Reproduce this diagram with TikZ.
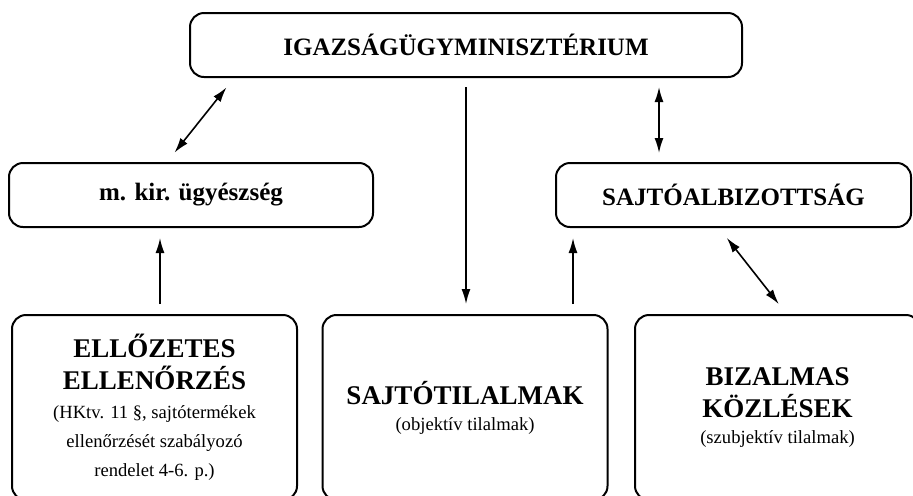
\documentclass[tikz,border=0pt]{standalone}
\usepackage{fontspec}
\setmainfont{Liberation Serif}
\usetikzlibrary{arrows.meta,positioning,calc}
\newcommand{\megj}{\fontsize{9.3}{13.5}\selectfont\mdseries}

\begin{document}
\begin{tikzpicture}[x=0.5pt,y=-0.5pt,>={Latex[length=7.5pt,width=4.5pt]},
    box/.style={rectangle,rounded corners=7pt,draw,line width=1pt,inner sep=2pt,align=center},
    head/.style={box,font=\fontsize{12.5}{15}\selectfont\bfseries,minimum height=32pt},
    big/.style={box,font=\fontsize{13.5}{16}\selectfont\bfseries,minimum width=142.5pt,minimum height=92.5pt},
    conn/.style={line width=0.8pt},
  ]
  \useasboundingbox (0,0) rectangle (913,495);
  \clip (0,0) rectangle (913,495);
  % upper row
  \node[head,minimum width=276pt]   (min)   at (466,45)   {IGAZSÁGÜGYMINISZTÉRIUM};
  \node[head,minimum width=182pt]   (ugy)   at (191,195)  {m. kir. ügyészség};
  \node[head,minimum width=177.5pt] (albiz) at (733.5,195) {SAJTÓALBIZOTTSÁG};
  % lower row
  \node[big] (ell)  at (154.5,407.5) {ELLŐZETES\\ELLENŐRZÉS\\[-1.5pt]\megj (HKtv. 11 §, sajtótermékek\\[-1.5pt]\megj ellenőrzését szabályozó\\[-1.5pt]\megj rendelet 4-6. p.)};
  \node[big] (tilt) at (465,407.5)   {SAJTÓTILALMAK\\[-3pt]\megj (objektív tilalmak)};
  \node[big] (biz)  at (777.5,407.5) {BIZALMAS\\KÖZLÉSEK\\[-3pt]\megj (szubjektív tilalmak)};
  % connectors
  \draw[<->,conn,shorten <=6pt,shorten >=6pt] ([xshift=22.5pt]min.south west) -- ([xshift=79.5pt]ugy.north west);
  \draw[->,conn,shorten <=4.5pt,shorten >=5pt] (min.south) -- (min.south |- tilt.north);
  \coordinate (ma) at ([xshift=52pt]albiz.north west);
  \draw[<->,conn,shorten <=4.5pt,shorten >=4.5pt] (ma |- min.south) -- (ma);
  \coordinate (eu) at ([xshift=2.75pt]ell.north);
  \draw[->,conn,shorten <=5pt,shorten >=5pt] (eu) -- (eu |- ugy.south);
  \coordinate (ta) at ([xshift=9pt]albiz.south west);
  \draw[->,conn,shorten <=5pt,shorten >=5pt] (ta |- tilt.north) -- (ta);
  \draw[<->,conn,shorten <=6.3pt,shorten >=6.3pt] ([xshift=82pt]albiz.south west) -- ([xshift=76.3pt]biz.north west);
\end{tikzpicture}
\end{document}
